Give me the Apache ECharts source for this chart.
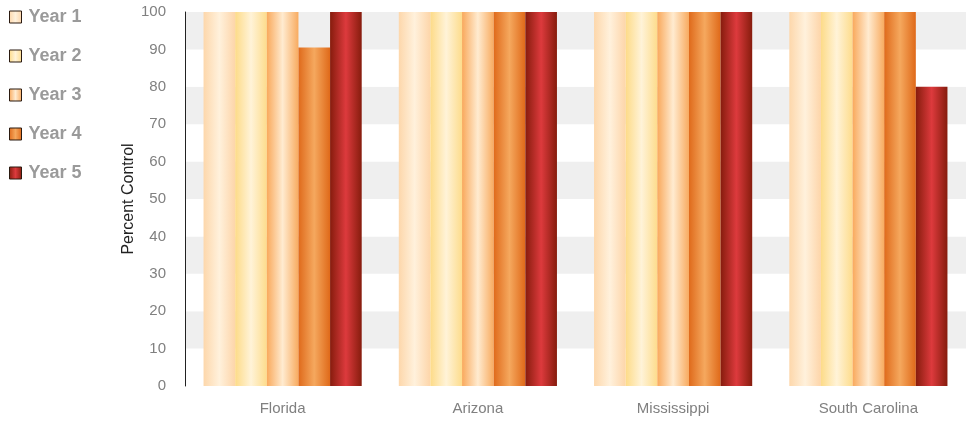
<!DOCTYPE html>
<html><head><meta charset="utf-8">
<script src="https://cdn.jsdelivr.net/npm/echarts@6/dist/echarts.min.js"></script>
<style>html,body{margin:0;padding:0;background:#fff}#c{width:966px;height:422px}</style>
</head><body><div id="c"></div>
<script>
const categories = ['Florida', 'Arizona', 'Mississippi', 'South Carolina'];
const seriesNames = ['Year 1', 'Year 2', 'Year 3', 'Year 4', 'Year 5'];
const year1 = [100, 100, 100, 100];
const year2 = [100, 100, 100, 100];
const year3 = [100, 100, 100, 100];
const year4 = [90.5, 100, 100, 100];
const year5 = [100, 100, 100, 80];
const yTicks = [0, 10, 20, 30, 40, 50, 60, 70, 80, 90, 100];

const values = [year1, year2, year3, year4, year5];
const palettes = [
  ['#FDD7AB', '#FFF1DC', '#FDD5A9'],
  ['#FDDB88', '#FFF3D8', '#FDDC8C'],
  ['#F9A95C', '#FFEBD0', '#F8AB60'],
  ['#DF6A1B', '#F5A85E', '#DF6919'],
  ['#861C0D', '#DD3A3D', '#861C0D']
];
function grad(p) {
  return new echarts.graphic.LinearGradient(0, 0, 1, 0, [
    {offset: 0, color: p[0]},
    {offset: 0.5, color: p[1]},
    {offset: 1, color: p[2]}
  ]);
}
const chart = echarts.init(document.getElementById('c'));
chart.setOption({
  animation: false,
  textStyle: {fontFamily: 'Liberation Sans, Arial, sans-serif'},
  legend: {
    orient: 'vertical', left: 4, top: 3,
    itemWidth: 12, itemHeight: 12, itemGap: 21,
    icon: 'rect',
    itemStyle: {borderColor: '#2a1a10', borderWidth: 1},
    textStyle: {fontSize: 18, fontWeight: 'bold', color: '#9a9a9a', padding: [0, 0, 0, 2]},
    data: seriesNames
  },
  grid: {left: 185, right: 0, top: 12, bottom: 36},
  xAxis: {
    type: 'category', data: categories,
    axisLine: {show: false}, axisTick: {show: false},
    axisLabel: {color: '#808080', fontSize: 15, margin: 15}
  },
  yAxis: {
    type: 'value', min: 0, max: 100, interval: 10,
    name: 'Percent Control', nameLocation: 'middle', nameGap: 48, nameRotate: 90,
    nameMoveOverlap: false,
    nameTextStyle: {color: '#222', fontSize: 16},
    axisLine: {show: true, lineStyle: {color: '#222', width: 1}},
    axisTick: {show: false},
    splitLine: {show: false},
    splitArea: {show: true, areaStyle: {color: ['#ffffff', '#efefef']}},
    axisLabel: {color: '#808080', fontSize: 15, margin: 19,
      formatter: v => yTicks.includes(v) ? String(v) : ''}
  },
  series: seriesNames.map((n, i) => ({
    name: n, type: 'bar', data: values[i],
    barGap: '0%', barCategoryGap: '19%',
    itemStyle: {color: grad(palettes[i])}
  }))
});
</script></body></html>
